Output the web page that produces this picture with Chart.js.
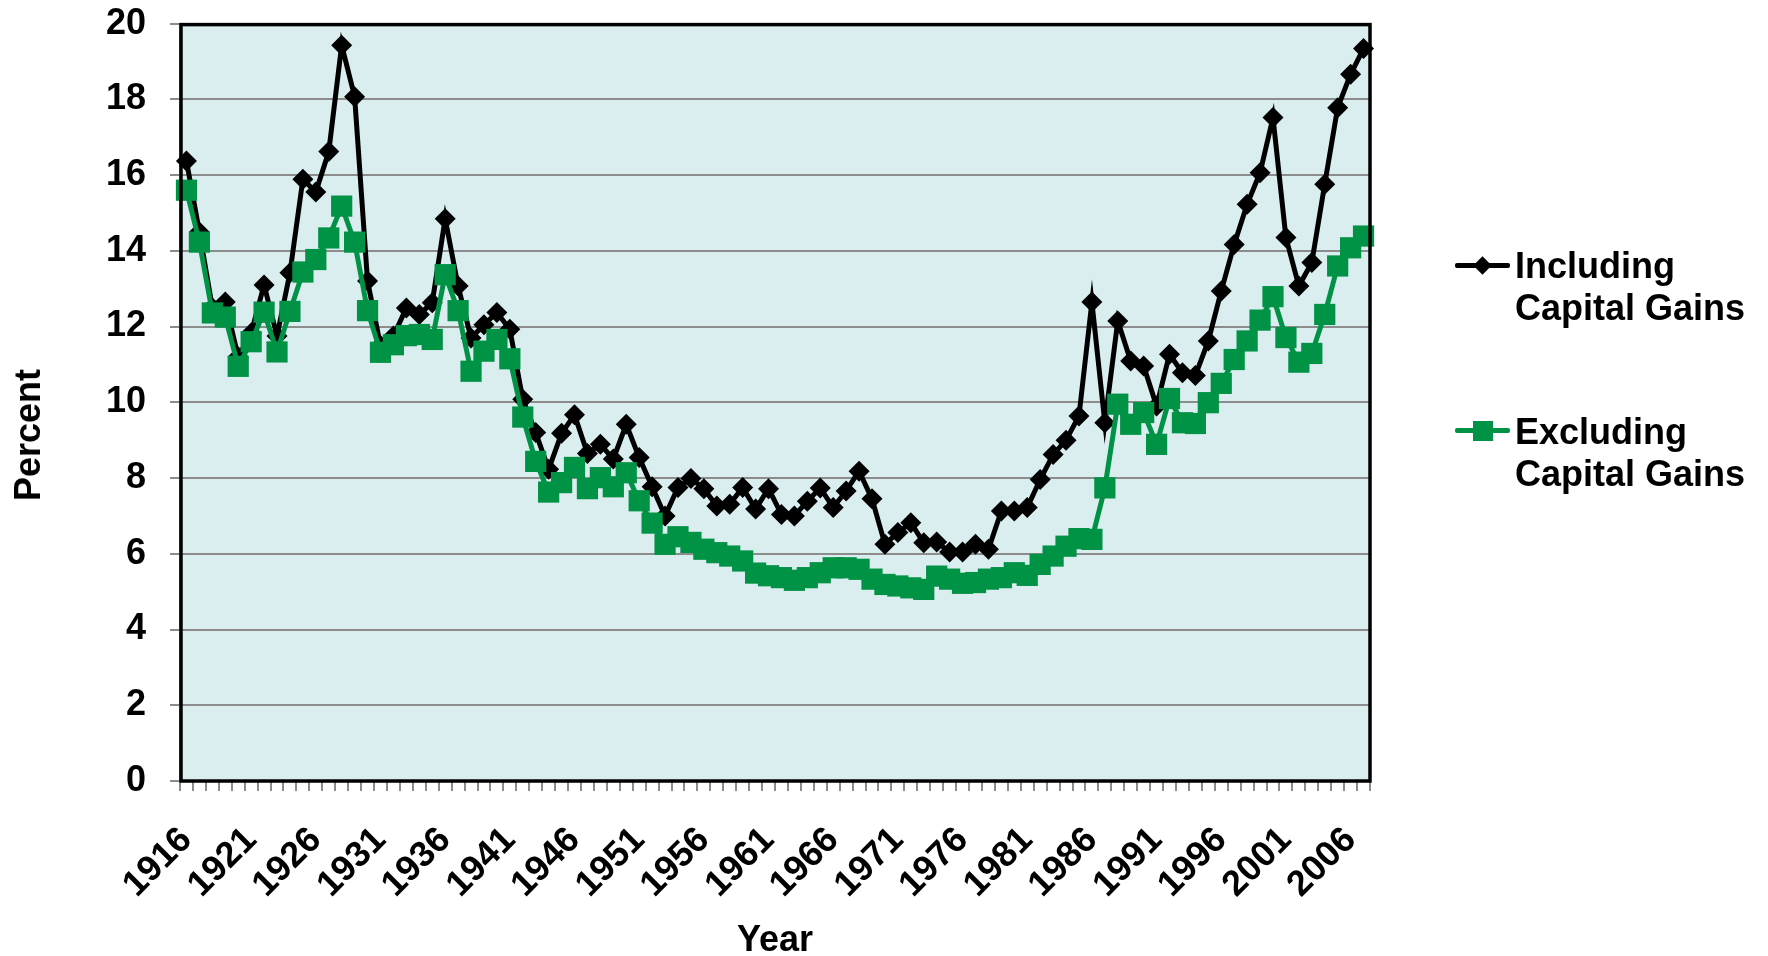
<!DOCTYPE html>
<html>
<head>
<meta charset="utf-8">
<title>Percent by Year</title>
<script src="https://cdn.jsdelivr.net/npm/chart.js@4/dist/chart.umd.min.js"></script>
<style>
  html, body { margin: 0; padding: 0; background: #fff; }
  #wrap { position: relative; width: 1768px; height: 956px; overflow: hidden; }
  #chart { position: absolute; left: 0; top: -22px; display: block; }
  .txt { font-family: Arial, "Liberation Sans", sans-serif; font-weight: bold; font-size: 36px; color: #000; }
  #y-title { position: absolute; left: 28px; top: 435px; transform: translate(-50%, -50%) rotate(-90deg); white-space: nowrap; line-height: 36px; }
  .legend-text { position: absolute; left: 1515px; line-height: 42px; white-space: nowrap; }
  .legend-line { position: absolute; left: 1455px; width: 55px; height: 5px; border-radius: 2px; }
  .legend-mark { position: absolute; }
</style>
</head>
<body>
<div id="wrap">
  <canvas id="chart" width="1768" height="978"></canvas>
  <div id="y-title" class="txt">Percent</div>

  <div class="legend-line" style="top: 263px; background: #000;"></div>
  <div class="legend-mark" style="left: 1476px; top: 259px; width: 13px; height: 13px; background: #000; transform: rotate(45deg);"></div>
  <div class="legend-text txt" style="top: 245px;">Including<br>Capital Gains</div>

  <div class="legend-line" style="top: 428px; background: #009245;"></div>
  <div class="legend-mark" style="left: 1473px; top: 421px; width: 20px; height: 20px; background: #009245;"></div>
  <div class="legend-text txt" style="top: 411px;">Excluding<br>Capital Gains</div>
</div>

<script>
// categories
const years = [
  1916, 1917, 1918, 1919, 1920, 1921, 1922, 1923, 1924, 1925,
  1926, 1927, 1928, 1929, 1930, 1931, 1932, 1933, 1934, 1935,
  1936, 1937, 1938, 1939, 1940, 1941, 1942, 1943, 1944, 1945,
  1946, 1947, 1948, 1949, 1950, 1951, 1952, 1953, 1954, 1955,
  1956, 1957, 1958, 1959, 1960, 1961, 1962, 1963, 1964, 1965,
  1966, 1967, 1968, 1969, 1970, 1971, 1972, 1973, 1974, 1975,
  1976, 1977, 1978, 1979, 1980, 1981, 1982, 1983, 1984, 1985,
  1986, 1987, 1988, 1989, 1990, 1991, 1992, 1993, 1994, 1995,
  1996, 1997, 1998, 1999, 2000, 2001, 2002, 2003, 2004, 2005,
  2006, 2007
];

// series (percent)
const includingGains = [
  16.37, 14.5, 12.5, 12.65, 11.2, 11.83, 13.1, 11.75, 13.42, 15.89,
  15.55, 16.62, 19.43, 18.07, 13.2, 11.5, 11.75, 12.49, 12.32, 12.63,
  14.85, 13.07, 11.7, 12.05, 12.37, 11.93, 10.08, 9.2, 8.23, 9.18,
  9.67, 8.65, 8.89, 8.5, 9.42, 8.54, 7.77, 7.0, 7.75, 7.99,
  7.72, 7.26, 7.31, 7.75, 7.18, 7.72, 7.04, 7.0, 7.39, 7.74,
  7.22, 7.66, 8.18, 7.45, 6.25, 6.56, 6.82, 6.29, 6.31, 6.05,
  6.05, 6.25, 6.12, 7.13, 7.13, 7.22, 7.96, 8.62, 9.0, 9.64,
  12.65, 9.46, 12.15, 11.09, 10.96, 9.9, 11.27, 10.78, 10.71, 11.62,
  12.94, 14.17, 15.23, 16.06, 17.52, 14.35, 13.07, 13.69, 15.76, 17.78,
  18.66, 19.34
];

const excludingGains = [
  15.6, 14.23, 12.36, 12.25, 10.95, 11.6, 12.38, 11.33, 12.4, 13.44,
  13.77, 14.34, 15.18, 14.23, 12.42, 11.32, 11.52, 11.76, 11.79, 11.66,
  13.37, 12.42, 10.82, 11.35, 11.66, 11.15, 9.61, 8.44, 7.63, 7.88,
  8.28, 7.72, 8.01, 7.77, 8.14, 7.4, 6.81, 6.25, 6.45, 6.3,
  6.12, 6.03, 5.94, 5.81, 5.49, 5.42, 5.37, 5.3, 5.37, 5.5,
  5.63, 5.63, 5.59, 5.33, 5.19, 5.15, 5.1, 5.06, 5.41, 5.33,
  5.22, 5.24, 5.33, 5.37, 5.5, 5.43, 5.72, 5.94, 6.2, 6.4,
  6.38, 7.74, 9.95, 9.42, 9.73, 8.89, 10.1, 9.46, 9.44, 9.99,
  10.5, 11.13, 11.62, 12.17, 12.79, 11.71, 11.06, 11.29, 12.32, 13.6,
  14.08, 14.39
];

// tick labels
const labeledYears = [1916, 1921, 1926, 1931, 1936, 1941, 1946, 1951, 1956, 1961, 1966, 1971, 1976, 1981, 1986, 1991, 1996, 2001, 2006];
const yMin = 0;
const yMax = 20;
const yStep = 2;

const fontFamily = 'Arial, "Liberation Sans", sans-serif';
const green = '#009245';
const gridGray = '#8c8c8c';

// plot background and black frame like the spreadsheet chart
const plotFrame = {
  id: 'plotFrame',
  beforeDraw(chart) {
    const { ctx, chartArea: a } = chart;
    ctx.save();
    ctx.fillStyle = '#daedef';
    ctx.fillRect(a.left, a.top, a.right - a.left, a.bottom - a.top);
    ctx.restore();
  },
  afterDraw(chart) {
    const { ctx, chartArea: a } = chart;
    ctx.save();
    ctx.strokeStyle = '#000';
    ctx.lineWidth = 3.5;
    ctx.strokeRect(a.left + 1, a.top + 1, a.right - a.left - 1, a.bottom - a.top - 1);
    ctx.restore();
  },
};

new Chart(document.getElementById('chart').getContext('2d'), {
  type: 'line',
  data: {
    labels: years,
    datasets: [
      {
        label: 'Including Capital Gains',
        data: includingGains,
        borderColor: '#000',
        borderWidth: 5,
        pointStyle: 'rectRot',
        pointRadius: 10.5,
        pointBackgroundColor: '#000',
        pointBorderWidth: 0,
        tension: 0,
        order: 1,
        clip: false,
      },
      {
        label: 'Excluding Capital Gains',
        data: excludingGains,
        borderColor: green,
        borderWidth: 5,
        pointStyle: 'rect',
        pointRadius: 15,
        pointBackgroundColor: green,
        pointBorderWidth: 0,
        tension: 0,
        order: 0,
        clip: false,
      },
    ],
  },
  options: {
    responsive: false,
    animation: false,
    devicePixelRatio: 1,
    layout: { padding: { left: 0, top: 1, right: 398, bottom: 0 } },
    plugins: {
      legend: { display: false },
      tooltip: { enabled: false },
    },
    scales: {
      x: {
        type: 'category',
        offset: true,
        grid: {
          offset: true,
          drawOnChartArea: false,
          drawTicks: true,
          tickLength: 10,
          color: gridGray,
          lineWidth: 2,
        },
        border: { display: true, color: gridGray, width: 2 },
        ticks: {
          autoSkip: false,
          minRotation: 45,
          maxRotation: 45,
          padding: 28,
          color: '#000',
          font: { family: fontFamily, size: 36, weight: 'bold' },
          callback: (value, index) => (labeledYears.includes(years[index]) ? String(years[index]) : ''),
        },
        title: {
          display: true,
          text: 'Year',
          color: '#000',
          padding: { top: 0, bottom: -3 },
          font: { family: fontFamily, size: 36, weight: 'bold', lineHeight: 1 },
        },
        afterFit: (scale) => { scale.height = 175; },
      },
      y: {
        min: yMin,
        max: yMax,
        grid: {
          color: gridGray,
          lineWidth: 2,
          tickLength: 10,
        },
        border: { display: true, color: gridGray, width: 2 },
        ticks: {
          stepSize: yStep,
          padding: 24,
          color: '#000',
          font: { family: fontFamily, size: 36, weight: 'bold' },
        },
        afterFit: (scale) => { scale.width = 180; },
      },
    },
  },
  plugins: [plotFrame],
});
</script>
</body>
</html>
